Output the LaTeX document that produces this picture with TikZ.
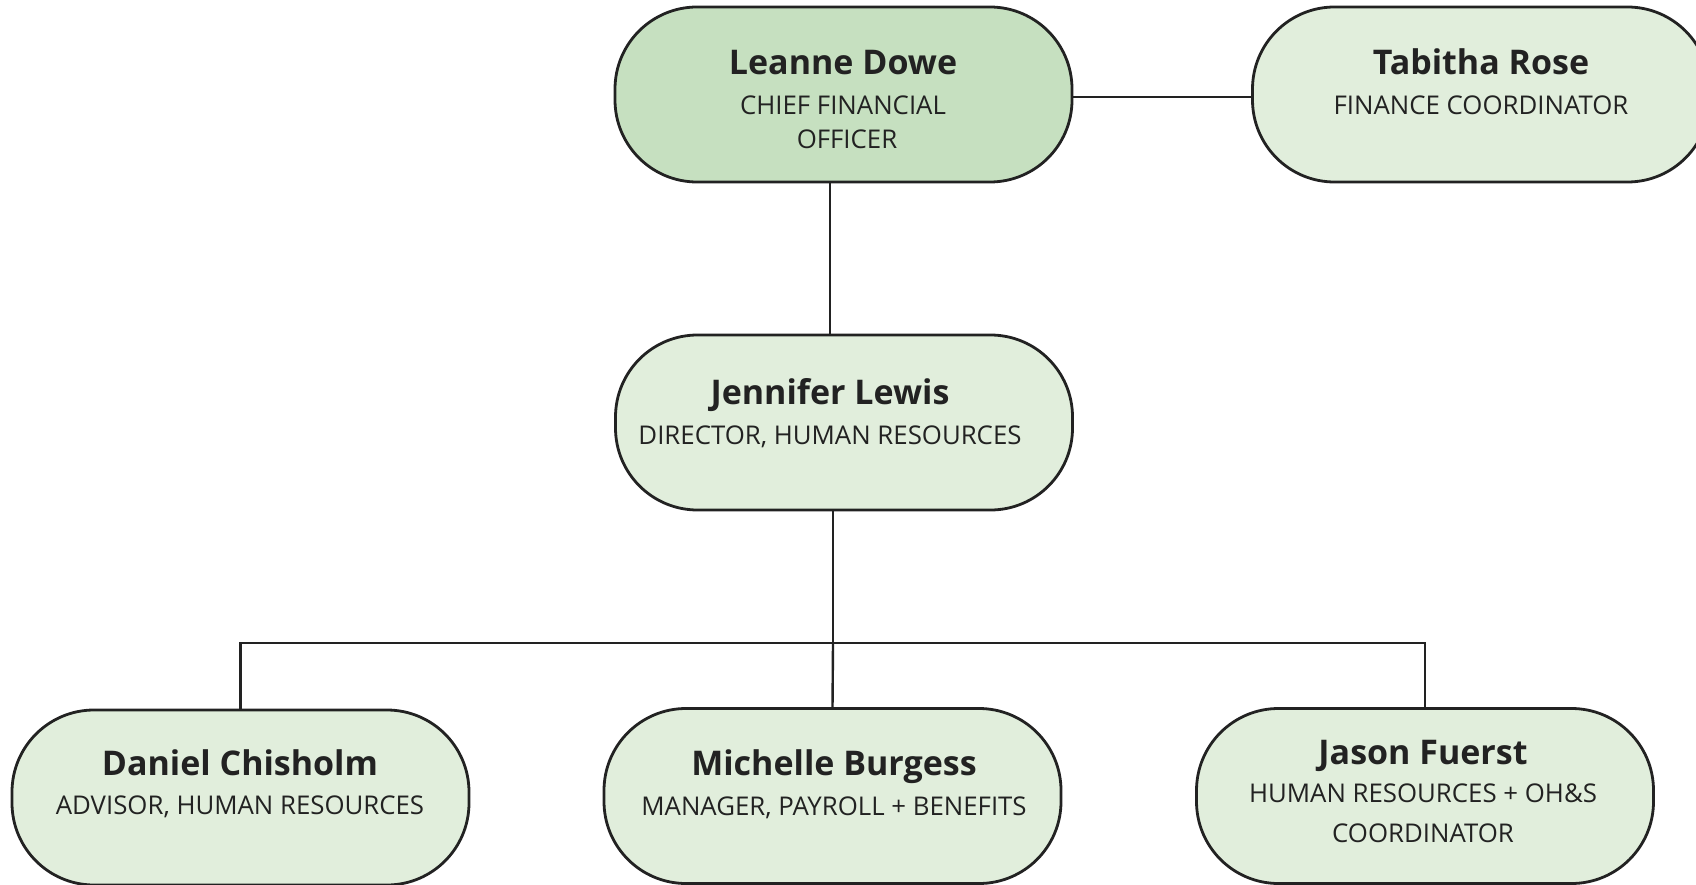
\documentclass[tikz,border=0pt]{standalone}
\usepackage{fontspec}
\setmainfont{Open Sans}
\definecolor{linec}{HTML}{222222}
\definecolor{textc}{HTML}{222222}
\definecolor{darkg}{HTML}{C6E0C0}
\definecolor{lightg}{HTML}{E1EEDC}
\begin{document}
\begin{tikzpicture}[x=1pt,y=-1pt,
  box/.style={draw=linec, line width=2.8pt, rounded corners=82pt, minimum width=457pt, minimum height=175pt, inner sep=0pt, fill=lightg},
  pname/.style={anchor=base, font=\fontsize{34}{38}\selectfont\bfseries, text=textc, inner sep=0pt},
  prole/.style={anchor=base, font=\fontsize{25.8}{30}\selectfont, text=textc, inner sep=0pt},
  conn/.style={draw=linec, line width=2.4pt}]
\useasboundingbox (0,0) rectangle (1696,885);
% boxes
\node[box, fill=darkg] (leanne) at (843.5,94.5) {};
\node[box] (tabitha) at (1481,94.5) {};
\node[box] (jennifer) at (844,422.5) {};
\node[box] (daniel) at (240.5,797.5) {};
\node[box] (michelle) at (832.5,796) {};
\node[box] (jason) at (1425,796) {};
% texts
\node[pname] (leanne-n) at (843,75) {Leanne Dowe};
\node[prole] (leanne-r1) at (843,115) {CHIEF FINANCIAL};
\node[prole] (leanne-r2) at (847,149) {OFFICER};
\node[pname] (tabitha-n) at (1481,75) {Tabitha Rose};
\node[prole] (tabitha-r) at (1481,115) {FINANCE COORDINATOR};
\node[pname] (jennifer-n) at (830,404) {Jennifer Lewis};
\node[prole] (jennifer-r) at (830,444) {DIRECTOR, HUMAN RESOURCES};
\node[pname] (daniel-n) at (240,775) {Daniel Chisholm};
\node[prole] (daniel-r) at (240,814) {ADVISOR, HUMAN RESOURCES};
\node[pname] (michelle-n) at (834,775) {Michelle Burgess};
\node[prole] (michelle-r) at (834,815) {MANAGER, PAYROLL + BENEFITS};
\node[pname] (jason-n) at (1423,764) {Jason Fuerst};
\node[prole] (jason-r1) at (1423,802) {HUMAN RESOURCES + OH\&S};
\node[prole] (jason-r2) at (1423,842) {COORDINATOR};
% connectors
\coordinate (lt) at (0,97);
\coordinate (lj) at (830,0);
\coordinate (bus) at (833,643);
\draw[conn] (lt -| leanne.east) -- (lt -| tabitha.west);
\draw[conn] (lj |- leanne.south) -- (lj |- jennifer.north);
\draw[conn] (bus |- jennifer.south) -- (bus);
\draw[conn] (daniel.north) |- (bus) -| (jason.north);
\draw[conn] (bus) -- (michelle.north);
\end{tikzpicture}
\end{document}
